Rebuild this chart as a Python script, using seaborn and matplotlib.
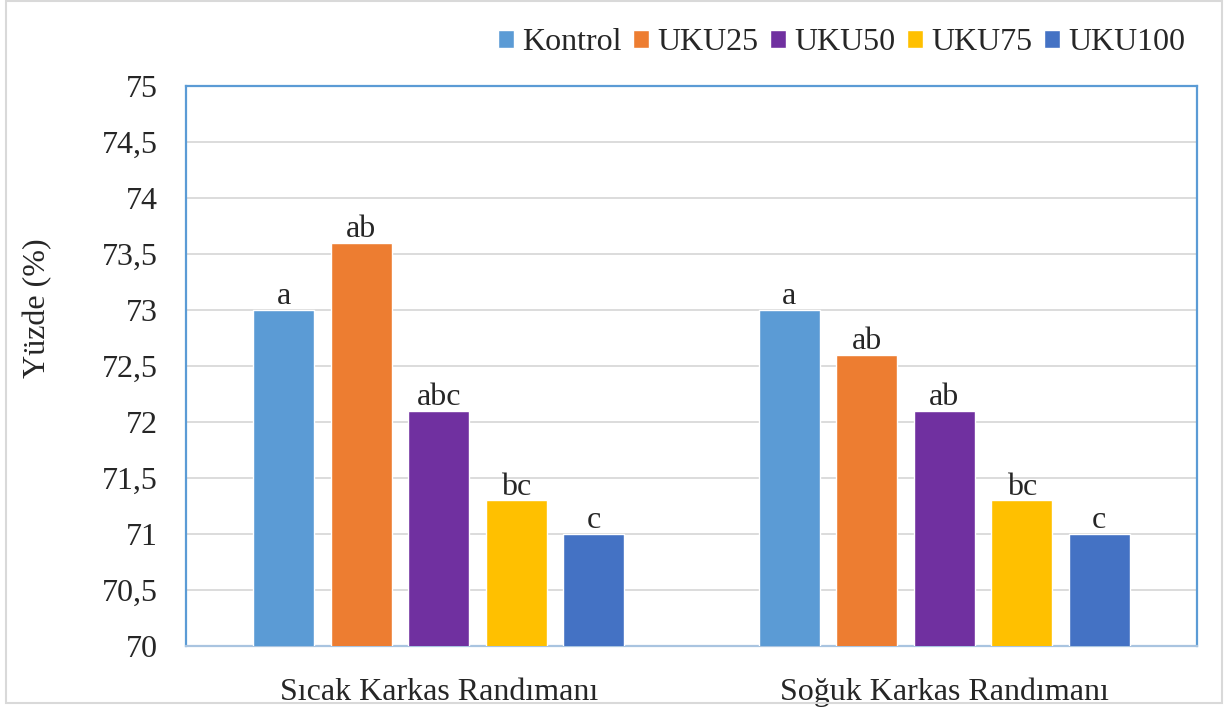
import pandas as pd
import matplotlib.pyplot as plt
import seaborn as sns
from matplotlib.patches import Rectangle

# chart values
categories = ['Sıcak Karkas Randımanı', 'Soğuk Karkas Randımanı']
groups = ['Kontrol', 'UKU25', 'UKU50', 'UKU75', 'UKU100']
values_sicak = [73.0, 73.6, 72.1, 71.3, 71.0]
values_soguk = [73.0, 72.6, 72.1, 71.3, 71.0]
letters_sicak = ['a', 'ab', 'abc', 'bc', 'c']
letters_soguk = ['a', 'ab', 'ab', 'bc', 'c']
colors = ['#5B9BD5', '#ED7D31', '#7030A0', '#FFC000', '#4472C4']

df = pd.DataFrame({
    'Kategori': [categories[0]] * 5 + [categories[1]] * 5,
    'Grup': groups * 2,
    'Deger': values_sicak + values_soguk,
})

sns.set_style('white')
plt.rcParams['font.family'] = ['Liberation Serif', 'DejaVu Serif']
fs = 23

fig = plt.figure(figsize=(12.32, 7.09), dpi=100)
ax = fig.add_axes([186 / 1232, 1 - 646 / 709, 1011 / 1232, 560 / 709])

sns.barplot(data=df, x='Kategori', y='Deger', hue='Grup', palette=colors,
            width=0.767, gap=0.21, ax=ax, saturation=1, zorder=3)

ax.set_ylim(70, 75)
ax.set_xlim(-0.5, 1.5)
ax.set_yticks([70 + 0.5 * i for i in range(11)])
ax.set_yticklabels([('%g' % (70 + 0.5 * i)).replace('.', ',') for i in range(11)])
ax.yaxis.grid(True, color='#D9D9D9', lw=1.3, zorder=0)
ax.tick_params(axis='y', length=0, labelsize=fs, pad=20)
ax.tick_params(axis='x', length=0, labelsize=fs, pad=23)
ax.set_xlabel('')
ax.set_ylabel('Yüzde (%)', fontsize=fs)
ax.yaxis.set_label_coords((38 - 186) / 1011, 0.604)
ax.yaxis.label.set_va('center')

for s in ax.spines.values():
    s.set_visible(True)
    s.set_color('#5B9BD5')
    s.set_linewidth(1.6)
ax.spines['bottom'].set_color('#A9C4E0')

# letters above bars
all_letters = [letters_sicak, letters_soguk]
for i, cont in enumerate(ax.containers):
    labs = [all_letters[j][i] for j in range(len(categories))]
    ax.bar_label(cont, labels=labs, fontsize=fs, padding=-1)

handles, labels = ax.get_legend_handles_labels()
ax.legend(handles, labels, ncol=5, frameon=False, fontsize=fs,
          loc='center right', bbox_to_anchor=((1185 - 186) / 1011, 1 + 43 / 560),
          handlelength=0.5, handleheight=0.5, handletextpad=0.25,
          columnspacing=0.37, borderaxespad=0, borderpad=0)

fig.patches.append(Rectangle((6 / 1232, 6 / 709), 1216 / 1232, 702 / 709,
                             transform=fig.transFigure, fill=False,
                             edgecolor='#D9D9D9', lw=1.5))

fig.savefig('out.png', dpi=100)
